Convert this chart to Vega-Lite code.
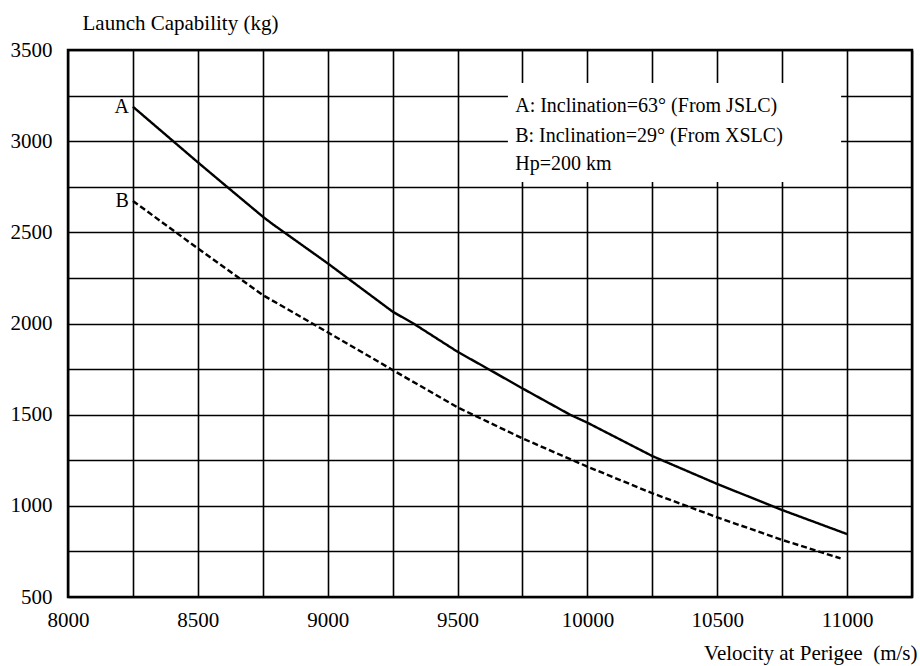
{
  "$schema": "https://vega.github.io/schema/vega-lite/v6.json",
  "width": 844,
  "height": 547,
  "autosize": {"type": "none"},
  "padding": {"left": 68, "top": 50, "right": 8, "bottom": 69},
  "background": "white",
  "config": {
    "view": {"stroke": "black", "strokeWidth": 2.5},
    "font": "Liberation Serif",
    "axis": {
      "labelFont": "Liberation Serif",
      "titleFont": "Liberation Serif",
      "labelFontSize": 21,
      "titleFontSize": 21,
      "labelColor": "black",
      "titleColor": "black",
      "titleFontWeight": "normal",
      "gridColor": "black",
      "gridOpacity": 1,
      "gridWidth": 1.6,
      "domain": false,
      "ticks": false
    }
  },
  "datasets": {
    "curves": [
      {"v": 8250, "cap": 3189, "series": "A"},
      {"v": 8500, "cap": 2884, "series": "A"},
      {"v": 8612, "cap": 2750, "series": "A"},
      {"v": 8750, "cap": 2586, "series": "A"},
      {"v": 8785, "cap": 2548, "series": "A"},
      {"v": 9000, "cap": 2330, "series": "A"},
      {"v": 9250, "cap": 2065, "series": "A"},
      {"v": 9330, "cap": 2000, "series": "A"},
      {"v": 9500, "cap": 1845, "series": "A"},
      {"v": 9625, "cap": 1745, "series": "A"},
      {"v": 9750, "cap": 1644, "series": "A"},
      {"v": 9933, "cap": 1500, "series": "A"},
      {"v": 10000, "cap": 1456, "series": "A"},
      {"v": 10250, "cap": 1273, "series": "A"},
      {"v": 10500, "cap": 1120, "series": "A"},
      {"v": 10750, "cap": 977, "series": "A"},
      {"v": 11000, "cap": 845, "series": "A"},
      {"v": 8250, "cap": 2672, "series": "B"},
      {"v": 8500, "cap": 2412, "series": "B"},
      {"v": 8750, "cap": 2156, "series": "B"},
      {"v": 9000, "cap": 1952, "series": "B"},
      {"v": 9250, "cap": 1745, "series": "B"},
      {"v": 9500, "cap": 1540, "series": "B"},
      {"v": 9750, "cap": 1370, "series": "B"},
      {"v": 10000, "cap": 1215, "series": "B"},
      {"v": 10250, "cap": 1069, "series": "B"},
      {"v": 10500, "cap": 937, "series": "B"},
      {"v": 10750, "cap": 813, "series": "B"},
      {"v": 10975, "cap": 712, "series": "B"}
    ],
    "labels": [
      {"v": 8250, "cap": 3189, "text": "A"},
      {"v": 8250, "cap": 2672, "text": "B"}
    ],
    "box": [
      {"x1": 9694, "x2": 10977, "y1": 2776, "y2": 3319}
    ],
    "notes": [
      {"v": 9722, "cap": 3160, "text": "A: Inclination=63° (From JSLC)"},
      {"v": 9722, "cap": 2997, "text": "B: Inclination=29° (From XSLC)"},
      {"v": 9722, "cap": 2842, "text": "Hp=200 km"}
    ]
  },
  "layer": [
    {
      "data": {"name": "box"},
      "mark": {"type": "rect", "fill": "white", "stroke": null},
      "encoding": {
        "x": {
          "field": "x1", "type": "quantitative",
          "scale": {"domain": [8000, 11250], "nice": false, "zero": false},
          "axis": {
            "values": [8000, 8250, 8500, 8750, 9000, 9250, 9500, 9750, 10000, 10250, 10500, 10750, 11000, 11250],
            "labelExpr": "datum.value % 500 == 0 && datum.value < 11250 ? format(datum.value, 'd') : ''",
            "labelBaseline": "alphabetic",
            "labelPadding": 29,
            "labelFlush": false,
            "labelOverlap": false,
            "title": "Velocity at Perigee\u00a0 (m/s)",
            "titleAnchor": "end",
            "titleAlign": "right",
            "titleBaseline": "alphabetic",
            "titleX": 849,
            "titleY": 62,
            "grid": true
          }
        },
        "x2": {"field": "x2"},
        "y": {
          "field": "y1", "type": "quantitative",
          "scale": {"domain": [500, 3500], "nice": false, "zero": false},
          "axis": {
            "values": [500, 750, 1000, 1250, 1500, 1750, 2000, 2250, 2500, 2750, 3000, 3250, 3500],
            "labelExpr": "datum.value % 500 == 0 ? format(datum.value, 'd') : ''",
            "labelPadding": 16,
            "labelBaseline": "middle",
            "labelFlush": false,
            "labelOverlap": false,
            "title": "Launch Capability (kg)",
            "titleAngle": 0,
            "titleAlign": "left",
            "titleBaseline": "alphabetic",
            "titleX": 14,
            "titleY": -21,
            "grid": true
          }
        },
        "y2": {"field": "y2"}
      }
    },
    {
      "data": {"name": "curves"},
      "mark": {"type": "line", "color": "black", "strokeWidth": 2.4},
      "encoding": {
        "x": {"field": "v", "type": "quantitative"},
        "y": {"field": "cap", "type": "quantitative"},
        "detail": {"field": "series"},
        "strokeDash": {
          "field": "series", "type": "nominal",
          "scale": {"domain": ["A", "B"], "range": [[1, 0], [6, 3]]},
          "legend": null
        }
      }
    },
    {
      "data": {"name": "labels"},
      "mark": {"type": "text", "align": "right", "baseline": "alphabetic", "dx": -4, "dy": 6, "fontSize": 20, "font": "Liberation Serif", "color": "black"},
      "encoding": {
        "x": {"field": "v", "type": "quantitative"},
        "y": {"field": "cap", "type": "quantitative"},
        "text": {"field": "text"}
      }
    },
    {
      "data": {"name": "notes"},
      "mark": {"type": "text", "align": "left", "baseline": "alphabetic", "fontSize": 20, "font": "Liberation Serif", "color": "black"},
      "encoding": {
        "x": {"field": "v", "type": "quantitative"},
        "y": {"field": "cap", "type": "quantitative"},
        "text": {"field": "text"}
      }
    }
  ]
}
